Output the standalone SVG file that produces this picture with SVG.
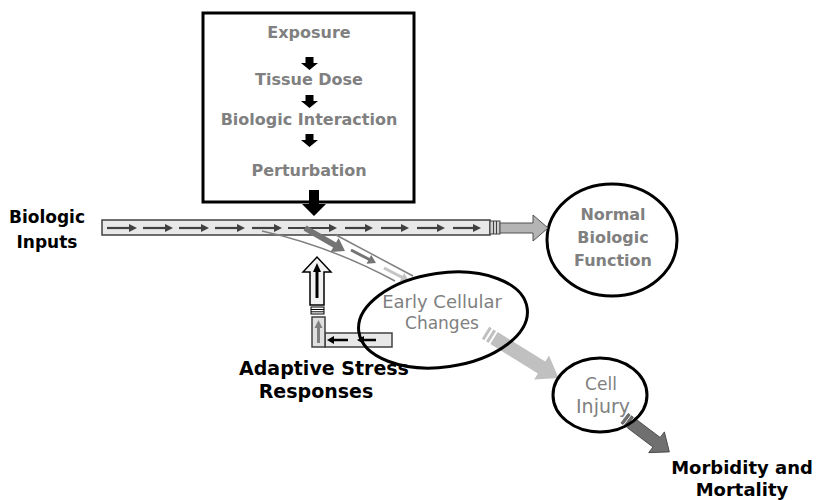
<svg xmlns="http://www.w3.org/2000/svg" width="816" height="500" viewBox="0 0 816 500">
<style>
  text { font-family: "Comic Sans MS", "DejaVu Sans", sans-serif; text-anchor: middle; }
  .lbl { font-weight: bold; fill: #000; font-size: 17px; }
  .gb { font-weight: bold; fill: #808080; font-size: 16px; }
  .gn { fill: #808080; font-size: 17px; }
  .node { fill: none; stroke: #000; stroke-width: 3; }
  .bar { fill: #e8e8e8; stroke: #404040; stroke-width: 1.5; }
  .sa { stroke: #404040; stroke-width: 2.2; }
  .sh { fill: #404040; }
</style>
<rect width="816" height="500" fill="#fff"/>

<g id="process-box">
  <rect x="203" y="13" width="211" height="189" fill="#fff" stroke="#000" stroke-width="3"/>
  <text class="gb" x="309" y="38">Exposure</text>
  <path d="M305.5,57 h8 v6 h4.5 l-8.5,7 l-8.5,-7 h4.5 z" fill="#000"/>
  <text class="gb" x="309" y="85">Tissue Dose</text>
  <path d="M305.5,95 h8 v6 h4.5 l-8.5,7 l-8.5,-7 h4.5 z" fill="#000"/>
  <text class="gb" x="309" y="125">Biologic Interaction</text>
  <path d="M305.5,134 h8 v6 h4.5 l-8.5,7 l-8.5,-7 h4.5 z" fill="#000"/>
  <text class="gb" x="309" y="176">Perturbation</text>
</g>

<g id="label-biologic-inputs">
  <text class="lbl" x="47" y="223">Biologic</text>
  <text class="lbl" x="47" y="248">Inputs</text>
</g>

<g id="node-normal">
  <ellipse class="node" cx="612" cy="240" rx="65" ry="56"/>
  <text class="gb" x="613" y="220">Normal</text>
  <text class="gb" x="613" y="243">Biologic</text>
  <text class="gb" x="613" y="266">Function</text>
</g>

<g id="connectors">
  <!-- perturbation arrow -->
  <path d="M309,190 h10 v14 h7 l-12,12 l-12,-12 h7 z" fill="#000"/>

  <!-- main pathway bar -->
  <rect class="bar" x="102" y="220" width="388" height="15"/>
  <g>
    <line class="sa" x1="107" y1="228" x2="130" y2="228"/><path class="sh" d="M129,224 L137,228 L129,232 z"/>
    <line class="sa" x1="143" y1="228" x2="166" y2="228"/><path class="sh" d="M165,224 L173,228 L165,232 z"/>
    <line class="sa" x1="179" y1="228" x2="202" y2="228"/><path class="sh" d="M201,224 L209,228 L201,232 z"/>
    <line class="sa" x1="215" y1="228" x2="238" y2="228"/><path class="sh" d="M237,224 L245,228 L237,232 z"/>
    <line class="sa" x1="252" y1="228" x2="275" y2="228"/><path class="sh" d="M274,224 L282,228 L274,232 z"/>
    <line class="sa" x1="288" y1="228" x2="330" y2="228" stroke-width="3"/><path class="sh" d="M329,224 L337,228 L329,232 z"/>
    <line class="sa" x1="345" y1="228" x2="366" y2="228"/><path class="sh" d="M365,224 L373,228 L365,232 z"/>
    <line class="sa" x1="381" y1="228" x2="402" y2="228"/><path class="sh" d="M401,224 L409,228 L401,232 z"/>
    <line class="sa" x1="417" y1="228" x2="438" y2="228"/><path class="sh" d="M437,224 L445,228 L437,232 z"/>
    <line class="sa" x1="453" y1="228" x2="474" y2="228"/><path class="sh" d="M473,224 L481,228 L473,232 z"/>
  </g>
  <rect x="490" y="221" width="10" height="13" fill="#d0d0d0" stroke="#404040" stroke-width="1"/>
  <line x1="493.5" y1="221" x2="493.5" y2="234" stroke="#404040" stroke-width="1"/>
  <line x1="496.5" y1="221" x2="496.5" y2="234" stroke="#404040" stroke-width="1"/>
  <path d="M500,223 H533 V215 L548,228 L533,241 V233 H500 z" fill="#b4b4b4" stroke="#505050" stroke-width="1"/>

  <!-- branch band to early cellular changes -->
  <path d="M336,235 L413,276" fill="none" stroke="#808080" stroke-width="1.5"/>
  <path d="M262,231 Q330,246 395,281" fill="none" stroke="#808080" stroke-width="1.5"/>
  <path d="M306.5,225.4 L336.1,242.4 L338.6,238.1 L345,251 L330.6,251.9 L333.1,247.6 L303.5,230.6 z" fill="#747474"/>
  <path d="M351.7,248.7 L369.6,258 L371.2,254.9 L376,263 L366.6,263.7 L368.2,260.6 L350.3,251.3 z" fill="#747474"/>
  <path d="M384.7,266.7 L402.6,276 L404.2,272.9 L409,281 L399.6,281.7 L401.2,278.6 L383.3,269.3 z" fill="#c4c4c4"/>

  <!-- adaptive stress response loop -->
  <rect class="bar" x="325" y="333" width="67" height="14"/>
  <line x1="348" y1="340" x2="333" y2="340" stroke="#000" stroke-width="2.5"/><path d="M334,336 L327,340 L334,344 z" fill="#000"/>
  <line x1="376" y1="340" x2="363" y2="340" stroke="#000" stroke-width="2.5"/><path d="M364,336 L357,340 L364,344 z" fill="#000"/>
  <rect x="312" y="317" width="13" height="30" fill="#e0e0e0" stroke="#404040" stroke-width="1.5"/>
  <line x1="318.5" y1="343" x2="318.5" y2="327" stroke="#808080" stroke-width="3"/><path d="M314.5,328 L318.5,320 L322.5,328 z" fill="#808080"/>
  <rect x="311" y="307" width="13" height="7" fill="#fff" stroke="#000" stroke-width="1"/>
  <line x1="311" y1="309.5" x2="324" y2="309.5" stroke="#000" stroke-width="1"/>
  <line x1="311" y1="311.8" x2="324" y2="311.8" stroke="#000" stroke-width="1"/>
  <path d="M310,305 V272 H303 L317,257 L331,272 H324 V305 z" fill="#f2f2f2" stroke="#000" stroke-width="1.5"/>
  <line x1="317" y1="298" x2="317" y2="271" stroke="#000" stroke-width="3"/><path d="M313,272 L317,263 L321,272 z" fill="#000"/>

  <!-- early changes to cell injury -->
  <g transform="translate(494,338) rotate(31.8)">
    <rect x="-10" y="-7" width="3" height="14" fill="#c0c0c0"/>
    <rect x="-5" y="-7" width="3" height="14" fill="#c0c0c0"/>
    <path d="M0,-7 H56 V-14 L76,0 L56,14 V7 H0 z" fill="#c0c0c0"/>
  </g>

  <!-- cell injury to morbidity -->
  <g transform="translate(631,423) rotate(37)">
    <rect x="-8" y="-6" width="2.5" height="12" fill="#707070" stroke="#404040" stroke-width="0.6"/>
    <rect x="-4" y="-6" width="2.5" height="12" fill="#707070" stroke="#404040" stroke-width="0.6"/>
    <path d="M0,-6 H32 V-13 L48,0 L32,13 V6 H0 z" fill="#707070" stroke="#404040" stroke-width="0.8"/>
  </g>
</g>

<g id="node-early">
  <ellipse class="node" cx="443" cy="320" rx="85" ry="47" transform="rotate(-8 443 320)"/>
  <text class="gn" x="442" y="308" style="font-size:18px">Early Cellular</text>
  <text class="gn" x="442" y="329">Changes</text>
</g>

<g id="node-injury">
  <ellipse class="node" cx="600" cy="395" rx="47" ry="37" stroke-width="2.5"/>
  <text class="gn" x="601" y="390">Cell</text>
  <text class="gn" x="603" y="413" style="font-size:19px">Injury</text>
</g>

<g id="label-adaptive">
  <text class="lbl" x="324" y="375" style="font-size:19px">Adaptive Stress</text>
  <text class="lbl" x="316" y="398" style="font-size:19px">Responses</text>
</g>

<g id="label-morbidity">
  <text class="lbl" x="742" y="474" style="font-size:18px">Morbidity and</text>
  <text class="lbl" x="742" y="496" style="font-size:18px">Mortality</text>
</g>
</svg>
